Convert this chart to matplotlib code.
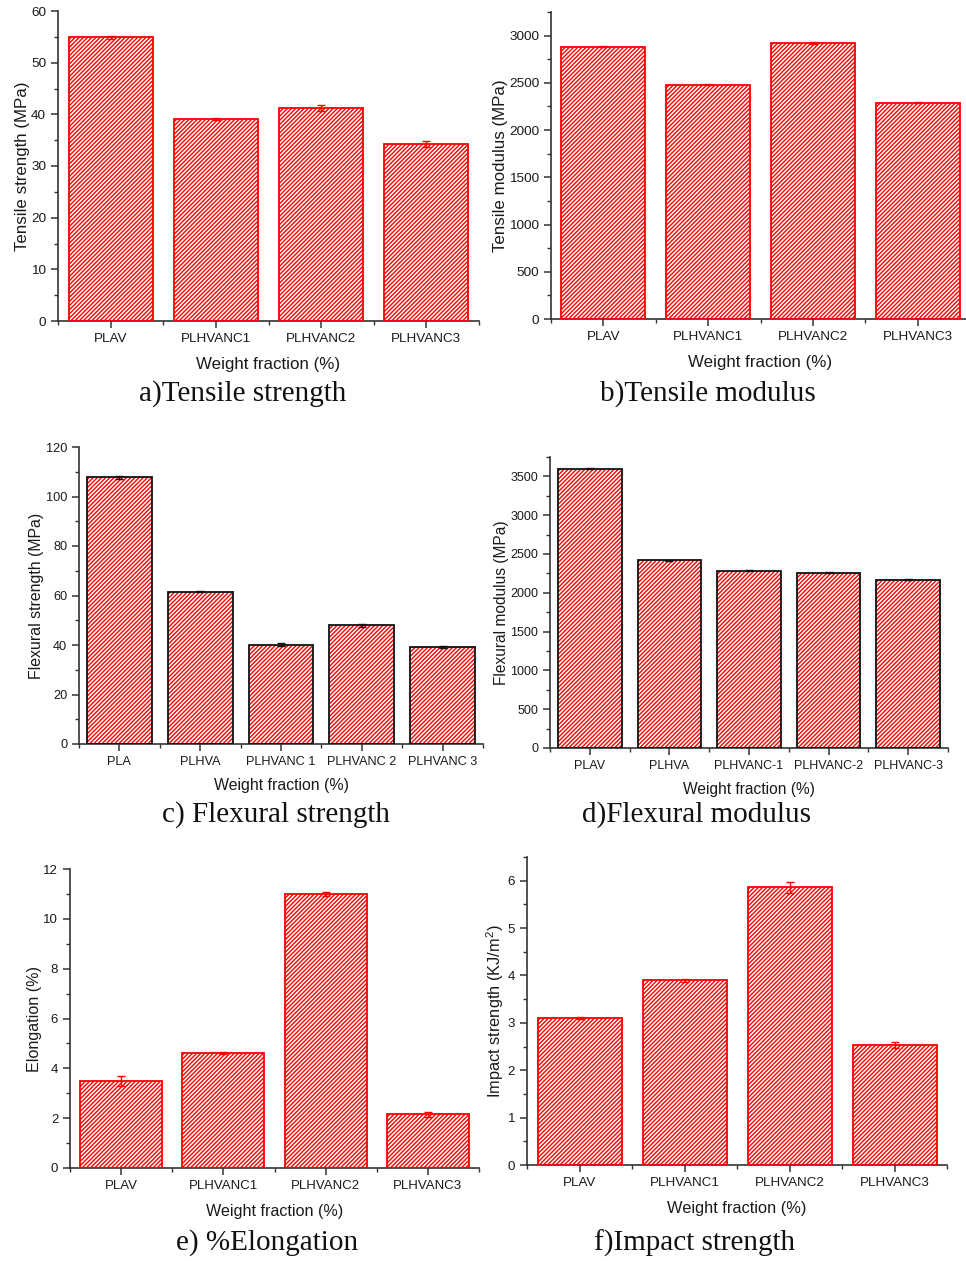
import matplotlib
matplotlib.use("Agg")
import matplotlib.pyplot as plt
from matplotlib.ticker import MultipleLocator, FixedLocator
import numpy as np

# ---- data ----
tensile_labels = ["PLAV", "PLHVANC1", "PLHVANC2", "PLHVANC3"]
tensile_strength = [54.9, 39.1, 41.2, 34.2]
tensile_strength_err = [0.25, 0.15, 0.55, 0.55]

tensile_modulus = [2880, 2480, 2920, 2290]
tensile_modulus_err = [5, 5, 8, 5]

flex_strength_labels = ["PLA", "PLHVA", "PLHVANC 1", "PLHVANC 2", "PLHVANC 3"]
flexural_strength = [107.7, 61.6, 40.2, 47.9, 39.1]
flexural_strength_err = [0.6, 0.3, 0.5, 0.5, 0.5]

flex_modulus_labels = ["PLAV", "PLHVA", "PLHVANC-1", "PLHVANC-2", "PLHVANC-3"]
flexural_modulus = [3600, 2420, 2287, 2257, 2167]
flexural_modulus_err = [6, 4, 6, 6, 6]

elongation = [3.50, 4.63, 11.0, 2.15]
elongation_err = [0.20, 0.04, 0.07, 0.10]

impact_strength = [3.10, 3.90, 5.86, 2.53]
impact_strength_err = [0.02, 0.03, 0.12, 0.06]

# ---- style ----
plt.rcParams["font.family"] = ["Liberation Sans", "DejaVu Sans"]
plt.rcParams["mathtext.default"] = "regular"
plt.rcParams["hatch.linewidth"] = 1.0

W, H = 966, 1261
fig = plt.figure(figsize=(W / 100, H / 100), dpi=100)
AX_COLOR = "#333333"
TXT_COLOR = "#1a1a1a"


def px_axes(left, top, right, bottom):
    return fig.add_axes([left / W, 1 - bottom / H, (right - left) / W, (bottom - top) / H])


def panel(rect, labels, values, errors, ymax, major, minor, ylabel, edge, err_color,
          tick_fs, label_fs, xlabel_pad):
    ax = px_axes(*rect)
    x = np.arange(len(labels))
    ax.bar(x, values, width=0.8, color="white", edgecolor="#ff0000", hatch="////////",
           linewidth=0, zorder=2)
    ax.bar(x, values, width=0.8, fill=False, edgecolor=edge, linewidth=1.3, zorder=3)
    ax.errorbar(x, values, yerr=errors, fmt="none", ecolor=err_color, elinewidth=1.0,
                capsize=3, capthick=1.0, zorder=4)
    ax.set_xlim(-0.5, len(labels) - 0.5)
    ax.set_ylim(0, ymax)
    ax.set_xticks(x)
    ax.set_xticklabels(labels)
    ax.xaxis.set_minor_locator(FixedLocator(np.arange(len(labels) + 1) - 0.5))
    ax.yaxis.set_major_locator(MultipleLocator(major))
    ax.yaxis.set_minor_locator(MultipleLocator(minor))
    for side in ("top", "right"):
        ax.spines[side].set_visible(False)
    for side in ("left", "bottom"):
        ax.spines[side].set_color(AX_COLOR)
        ax.spines[side].set_linewidth(1.2)
    ax.tick_params(which="major", direction="out", length=5, width=1.1, color=AX_COLOR,
                   labelsize=tick_fs, labelcolor=TXT_COLOR, pad=3.5)
    ax.tick_params(which="minor", direction="out", length=3, width=1.0, color=AX_COLOR)
    ax.set_ylabel(ylabel, fontsize=label_fs, color=TXT_COLOR, labelpad=1)
    ax.set_xlabel("Weight fraction (%)", fontsize=label_fs, color=TXT_COLOR,
                  labelpad=xlabel_pad)
    return ax


panel((58, 11, 479, 321), tensile_labels, tensile_strength, tensile_strength_err,
      60, 10, 5, "Tensile strength (MPa)", "#ff0000", "#ff0000", 9.7, 12.2, 8.5)
panel((551, 12, 970, 319), tensile_labels, tensile_modulus, tensile_modulus_err,
      3250, 500, 250, "Tensile modulus (MPa)", "#ff0000", "#ff0000", 9.7, 12.2, 8.5)
panel((79, 447, 483, 744), flex_strength_labels, flexural_strength, flexural_strength_err,
      120, 20, 10, "Flexural strength (MPa)", "#111111", "#111111", 9.2, 11.4, 7)
panel((550, 457, 948, 748), flex_modulus_labels, flexural_modulus, flexural_modulus_err,
      3750, 500, 250, "Flexural modulus (MPa)", "#111111", "#111111", 9.0, 11.2, 7)
panel((70, 869, 479, 1168), tensile_labels, elongation, elongation_err,
      12, 2, 1, "Elongation (%)", "#ff0000", "#ff0000", 9.5, 11.6, 8.5)
panel((527, 857, 947, 1165), tensile_labels, impact_strength, impact_strength_err,
      6.5, 1, 0.5, "Impact strength (KJ/m$^2$)", "#ff0000", "#ff0000", 9.6, 11.8, 9)

# ---- panel captions ----
captions = ["a)Tensile strength", "b)Tensile modulus", "c) Flexural strength",
            "d)Flexural modulus", "e) %Elongation", "f)Impact strength"]
cap_pos = [(243, 394), (708, 394), (276, 815), (697, 815), (267, 1243), (695, 1243)]
for text, (cx, cy) in zip(captions, cap_pos):
    fig.text(cx / W, 1 - cy / H, text, ha="center", va="center", fontsize=21,
             family=["Liberation Serif", "DejaVu Serif"], color="#111111")

fig.savefig("out.png", dpi=100, facecolor="white")
